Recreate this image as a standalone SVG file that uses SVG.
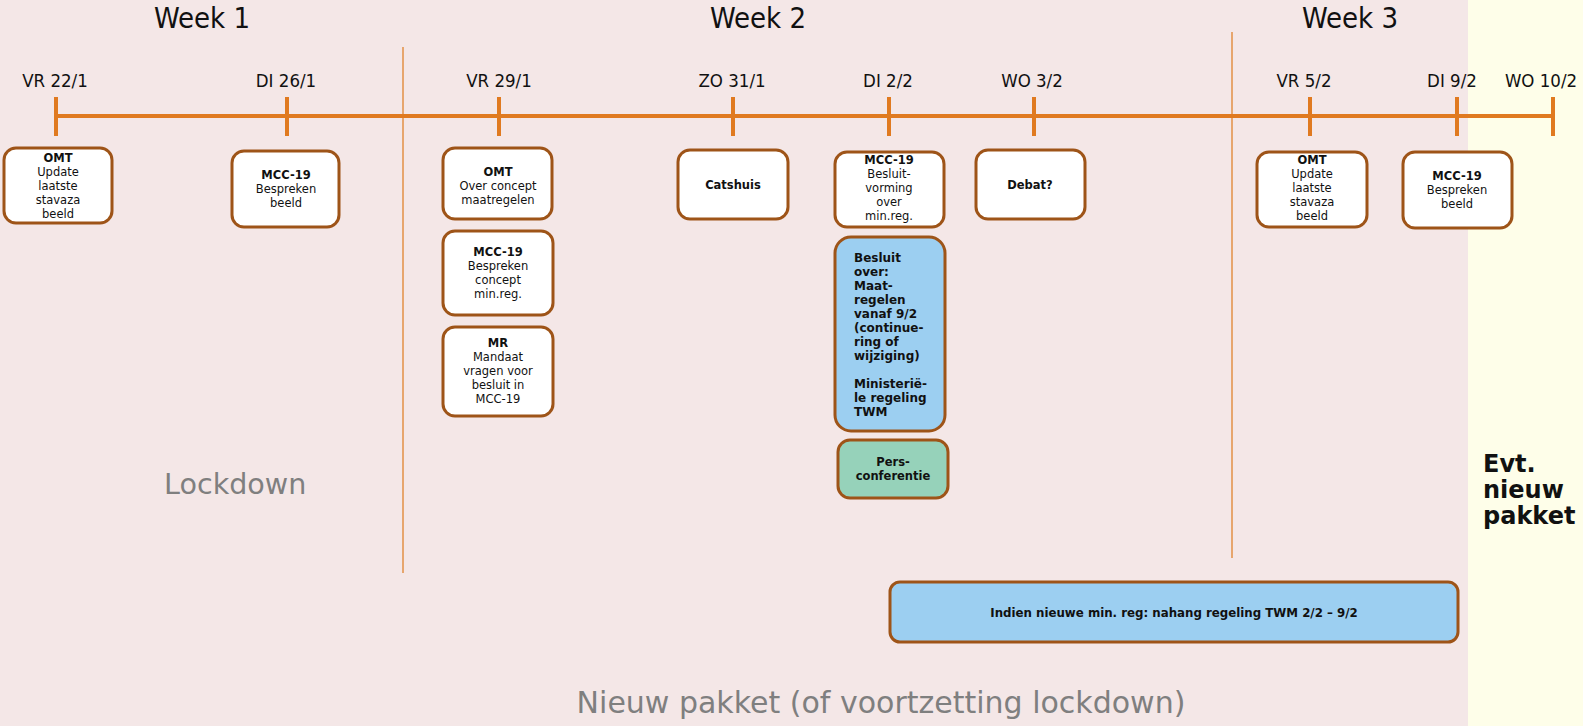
<svg xmlns="http://www.w3.org/2000/svg" width="1583" height="726" viewBox="0 0 1583 726">
<style>
.bg{fill:#f4e7e7}
.bgy{fill:#fefee9}
.tl{stroke:#e07a20;stroke-width:4;fill:none}
.sep{stroke:#e39046;stroke-width:1.5;fill:none}
.box{fill:#ffffff;stroke:#9e5418;stroke-width:3}
.blue{fill:#9ccff1;stroke:#9e5418;stroke-width:3}
.green{fill:#96d2ba;stroke:#9e5418;stroke-width:3}
.wk{font-family:'DejaVu Sans Condensed','DejaVu Sans',sans-serif;font-stretch:condensed;font-size:29px;fill:#111;text-anchor:middle}
.dt{font-family:'DejaVu Sans Condensed','DejaVu Sans',sans-serif;font-stretch:condensed;font-size:18.5px;fill:#111;text-anchor:middle}
.t{font-family:'DejaVu Sans',Verdana,sans-serif;font-size:11.5px;fill:#111;text-anchor:middle}
.b{font-weight:bold}
.tb{font-family:'DejaVu Sans',Verdana,sans-serif;font-size:12px;font-weight:bold;fill:#111}
.gray{font-family:'DejaVu Sans',Verdana,sans-serif;fill:#7f7f7f}
.evt{font-family:'DejaVu Sans',Verdana,sans-serif;font-size:24px;font-weight:bold;fill:#111}
.lt{font-family:'DejaVu Sans',Verdana,sans-serif;font-weight:bold;font-size:11.8px;fill:#111;text-anchor:middle}
</style>
<rect class="bg" x="0" y="0" width="1468" height="726"/>
<rect class="bgy" x="1468" y="0" width="115" height="726"/>

<g id="connectors">
<line class="sep" x1="403" y1="47" x2="403" y2="573"/>
<line class="sep" x1="1232" y1="32" x2="1232" y2="558"/>
<line class="tl" x1="56" y1="116" x2="1553" y2="116"/>
<line class="tl" x1="56" y1="97" x2="56" y2="136"/>
<line class="tl" x1="287" y1="97" x2="287" y2="136"/>
<line class="tl" x1="499" y1="97" x2="499" y2="136"/>
<line class="tl" x1="733" y1="97" x2="733" y2="136"/>
<line class="tl" x1="889" y1="97" x2="889" y2="136"/>
<line class="tl" x1="1034" y1="97" x2="1034" y2="136"/>
<line class="tl" x1="1310" y1="97" x2="1310" y2="136"/>
<line class="tl" x1="1457" y1="97" x2="1457" y2="136"/>
<line class="tl" x1="1553" y1="97" x2="1553" y2="136"/>
</g>

<g id="weeks">
<text class="wk" x="202" y="28">Week 1</text>
<text class="wk" x="758" y="28">Week 2</text>
<text class="wk" x="1350" y="28">Week 3</text>
</g>

<g id="dates">
<text class="dt" x="55" y="87">VR 22/1</text>
<text class="dt" x="286" y="87">DI 26/1</text>
<text class="dt" x="499" y="87">VR 29/1</text>
<text class="dt" x="732" y="87">ZO 31/1</text>
<text class="dt" x="888" y="87">DI 2/2</text>
<text class="dt" x="1032" y="87">WO 3/2</text>
<text class="dt" x="1304" y="87">VR 5/2</text>
<text class="dt" x="1452" y="87">DI 9/2</text>
<text class="dt" x="1541" y="87">WO 10/2</text>
</g>

<g id="omt-22">
<rect class="box" x="4" y="148" width="108" height="75" rx="12"/>
<text class="t b" x="58" y="162">OMT</text>
<text class="t" x="58" y="176">Update</text>
<text class="t" x="58" y="190">laatste</text>
<text class="t" x="58" y="204">stavaza</text>
<text class="t" x="58" y="218">beeld</text>
</g>

<g id="mcc-26">
<rect class="box" x="232" y="151" width="107" height="76" rx="12"/>
<text class="t b" x="286" y="179">MCC-19</text>
<text class="t" x="286" y="193">Bespreken</text>
<text class="t" x="286" y="207">beeld</text>
</g>

<g id="omt-29">
<rect class="box" x="443" y="148" width="109" height="71" rx="12"/>
<text class="t b" x="498" y="176">OMT</text>
<text class="t" x="498" y="190">Over concept</text>
<text class="t" x="498" y="204">maatregelen</text>
</g>

<g id="mcc-29">
<rect class="box" x="443" y="231" width="110" height="84" rx="12"/>
<text class="t b" x="498" y="256">MCC-19</text>
<text class="t" x="498" y="270">Bespreken</text>
<text class="t" x="498" y="284">concept</text>
<text class="t" x="498" y="298">min.reg.</text>
</g>

<g id="mr-29">
<rect class="box" x="443" y="327" width="110" height="89" rx="12"/>
<text class="t b" x="498" y="347">MR</text>
<text class="t" x="498" y="361">Mandaat</text>
<text class="t" x="498" y="375">vragen voor</text>
<text class="t" x="498" y="389">besluit in</text>
<text class="t" x="498" y="403">MCC-19</text>
</g>

<g id="catshuis">
<rect class="box" x="678" y="150" width="110" height="69" rx="12"/>
<text class="t b" x="733" y="189">Catshuis</text>
</g>

<g id="mcc-2">
<rect class="box" x="835" y="152" width="109" height="75" rx="12"/>
<text class="t b" x="889" y="164">MCC-19</text>
<text class="t" x="889" y="178">Besluit-</text>
<text class="t" x="889" y="192">vorming</text>
<text class="t" x="889" y="206">over</text>
<text class="t" x="889" y="220">min.reg.</text>
</g>

<g id="besluit">
<rect class="blue" x="835" y="237" width="110" height="194" rx="16"/>
<text class="tb" x="854" y="262">Besluit</text>
<text class="tb" x="854" y="276">over:</text>
<text class="tb" x="854" y="290">Maat-</text>
<text class="tb" x="854" y="304">regelen</text>
<text class="tb" x="854" y="318">vanaf 9/2</text>
<text class="tb" x="854" y="332">(continue-</text>
<text class="tb" x="854" y="346">ring of</text>
<text class="tb" x="854" y="360">wijziging)</text>
<text class="tb" x="854" y="388">Ministeriё-</text>
<text class="tb" x="854" y="402">le regeling</text>
<text class="tb" x="854" y="416">TWM</text>
</g>

<g id="persconferentie">
<rect class="green" x="838" y="440" width="110" height="58" rx="12"/>
<text class="t b" x="893" y="466">Pers-</text>
<text class="t b" x="893" y="480">conferentie</text>
</g>

<g id="debat">
<rect class="box" x="976" y="150" width="109" height="69" rx="12"/>
<text class="t b" x="1030" y="189">Debat?</text>
</g>

<g id="omt-5">
<rect class="box" x="1257" y="152" width="110" height="75" rx="12"/>
<text class="t b" x="1312" y="164">OMT</text>
<text class="t" x="1312" y="178">Update</text>
<text class="t" x="1312" y="192">laatste</text>
<text class="t" x="1312" y="206">stavaza</text>
<text class="t" x="1312" y="220">beeld</text>
</g>

<g id="mcc-9">
<rect class="box" x="1403" y="152" width="109" height="76" rx="12"/>
<text class="t b" x="1457" y="180">MCC-19</text>
<text class="t" x="1457" y="194">Bespreken</text>
<text class="t" x="1457" y="208">beeld</text>
</g>

<g id="nahang">
<rect class="blue" x="890" y="582" width="568" height="60" rx="10"/>
<text class="lt" x="1174" y="617">Indien nieuwe min. reg: nahang regeling TWM 2/2 – 9/2</text>
</g>

<g id="labels">
<text class="gray" x="164" y="494" font-size="28.6">Lockdown</text>
<text class="gray" x="881" y="713" font-size="30" text-anchor="middle">Nieuw pakket (of voortzetting lockdown)</text>
<text class="evt" x="1483" y="472">Evt.</text>
<text class="evt" x="1483" y="498">nieuw</text>
<text class="evt" x="1483" y="524">pakket</text>
</g>
</svg>
